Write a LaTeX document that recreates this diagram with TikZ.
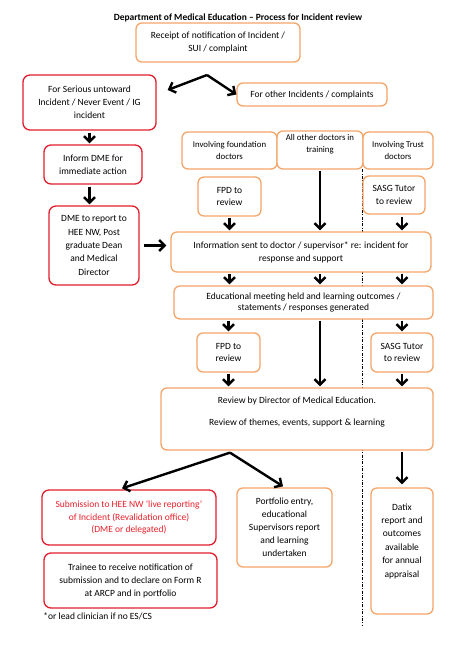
\documentclass[tikz,border=0pt]{standalone}
\usepackage{fontspec}
\setmainfont{Carlito}
\usetikzlibrary{arrows.meta,calc}
\definecolor{orangeline}{RGB}{244,165,105}
\definecolor{redline}{RGB}{226,30,45}
\definecolor{redtext}{RGB}{232,32,42}
\tikzset{every picture/.style={line width=0.75pt}}
\tikzset{
  obox/.style={draw=orangeline, line width=1.3pt, rounded corners=6pt, fill=white, align=center, inner sep=1pt},
  rbox/.style={draw=redline, line width=1.3pt, rounded corners=7pt, fill=white, align=center, inner sep=1pt},
  arr/.style={line width=2.4pt, -{Straight Barb[length=5.5pt,width=11pt,line width=2.4pt]}},
  divider/.style={line width=0.6pt, dash pattern=on 3pt off 1.5pt on 0.8pt off 1.5pt}
}
\begin{document}
\begin{tikzpicture}[x=1pt,y=1pt,yscale=-1,xscale=1,font=\fontsize{9.5}{12.8}\selectfont]
		\useasboundingbox (0,0) rectangle (474,650); %page of 474 x 650
		
		%Divider between trainee and Trust doctors
		\coordinate (divTop) at (362,169);
		\coordinate (divEnd) at (362,625);
		\draw [divider] (divTop) -- (divEnd) ;
		
		\draw (238,18) node [font=\fontsize{9.5}{11}\selectfont\bfseries] (title) {Department of Medical Education -- Process for Incident review};
		
		%Shape: Rounded Rect, top
		\draw (218,42.5) node [obox, minimum width=164, minimum height=39] (receipt) {Receipt of notification of Incident /\\SUI / complaint};
		\draw (89.5,102.5) node [rbox, minimum width=133, minimum height=55] (serious) {For Serious untoward\\Incident / Never Event / IG\\incident};
		\draw (312,94.5) node [obox, minimum width=150, minimum height=23] (other) {For other Incidents / complaints};
		
		%Shape: Rounded Rect, left column
		\draw (93,164.5) node [rbox, minimum width=98, minimum height=39] (inform) {Inform DME for\\immediate action};
		\draw (94,245.5) node [rbox, minimum width=90, minimum height=79, font=\fontsize{9.5}{13.3}\selectfont] (dmerep) {DME to report to\\HEE NW, Post\\graduate Dean\\and Medical\\Director};
		
		%Shape: Rounded Rect, doctor groups
		\draw (229.5,150.5) node [obox, minimum width=95, minimum height=37, font=\fontsize{8.8}{12.5}\selectfont] (found) {Involving foundation\\doctors};
		\draw (320,150) node [obox, minimum width=86, minimum height=38, font=\fontsize{8.8}{11.5}\selectfont] (allother) {All other doctors in\\training\\[2pt]};
		\draw (398,150.5) node [obox, minimum width=70, minimum height=37, font=\fontsize{8.8}{12.5}\selectfont] (trust) {Involving Trust\\doctors};
		\draw (229.5,196.5) node [obox, minimum width=63, minimum height=39] (fpdA) {FPD to\\review};
		\draw (394,195) node [obox, minimum width=62, minimum height=38] (sasgA) {SASG Tutor\\to review};
		
		%Shape: Rounded Rect, middle
		\draw (301,252) node [obox, minimum width=260, minimum height=40] (info) {Information sent to doctor / supervisor* re: incident for\\response and support};
		\draw (303.5,302.5) node [obox, minimum width=259, minimum height=33, font=\fontsize{9.5}{11.7}\selectfont] (edu) {Educational meeting held and learning outcomes /\\statements / responses generated};
		\draw (228.5,352.5) node [obox, minimum width=63, minimum height=39] (fpdB) {FPD to\\review};
		\draw (402,352.5) node [obox, minimum width=62, minimum height=39] (sasgB) {SASG Tutor\\to review};
		\draw (297,419) node [obox, minimum width=272, minimum height=62] (review) {Review by Director of Medical Education.\\[9pt]Review of themes, events, support \& learning\\[3pt]};
		
		%Shape: Rounded Rect, bottom
		\draw (129,517.5) node [rbox, minimum width=174, minimum height=55, text=redtext] (subm) {Submission to HEE NW ‘live reporting’\\of Incident (Revalidation office)\\(DME or delegated)};
		\draw (130.5,580.5) node [rbox, minimum width=173, minimum height=55, font=\fontsize{9.5}{13}\selectfont] (trainee) {Trainee to receive notification of\\submission and to declare on Form R\\at ARCP and in portfolio};
		\draw (284.5,527.5) node [obox, minimum width=95, minimum height=79, font=\fontsize{9.5}{13}\selectfont] (portf) {Portfolio entry,\\educational\\Supervisors report\\and learning\\undertaken};
		\draw (402,551) node [obox, minimum width=62, minimum height=126, font=\fontsize{9.5}{13.4}\selectfont] (datix) {Datix\\report and\\outcomes\\available\\for annual\\appraisal\\[8pt]};
		\draw (43,616) node [anchor=west, inner sep=0pt] (footnote) {*or lead clinician if no ES/CS};
		
		%Connectors
		\coordinate (splitA) at (207,75);
		\draw [arr] (splitA) -- ($(serious.east)+(11,-12.5)$) ;
		\draw [arr] (splitA) -- (other.west) ;
		\draw [arr, shorten <=2pt, shorten >=1pt] (serious.south) -- (serious.south |- inform.north) ;
		\draw [arr, shorten <=2pt, shorten >=1pt] (inform.south -| serious.south) -- (dmerep.north -| serious.south) ;
		\draw [arr, shorten <=4pt, shorten >=4pt] (dmerep.east) -- (dmerep.east -| info.west) ;
		
		\coordinate (colC) at (402,0);
		\draw [arr, shorten <=1pt, shorten >=1pt] (fpdA.south) -- (fpdA.south |- info.north) ;
		\draw [arr, shorten <=1pt, shorten >=1pt] (allother.south) -- (allother.south |- info.north) ;
		\draw [arr, shorten <=2pt, shorten >=1pt] (sasgA.south -| colC) -- (info.north -| colC) ;
		
		\draw [arr, shorten <=1pt, shorten >=1pt] (info.south -| fpdA.south) -- (edu.north -| fpdA.south) ;
		\draw [arr, shorten <=1pt, shorten >=1pt] (info.south -| allother.south) -- (edu.north -| allother.south) ;
		\draw [arr, shorten <=1pt, shorten >=1pt] (info.south -| colC) -- (edu.north -| colC) ;
		
		\draw [arr, shorten <=1pt, shorten >=1pt] (edu.south -| fpdB.north) -- (fpdB.north) ;
		\draw [arr, shorten <=1pt, shorten >=1pt] (edu.south -| allother.south) -- (review.north -| allother.south) ;
		\draw [arr, shorten <=1pt, shorten >=1pt] (edu.south -| sasgB.north) -- (sasgB.north) ;
		\draw [arr, shorten <=1pt, shorten >=1pt] (fpdB.south) -- (review.north -| fpdB.south) ;
		\draw [arr, shorten <=1pt, shorten >=1pt] (sasgB.south) -- (review.north -| sasgB.south) ;
		
		\coordinate (splitB) at ($(review.south -| fpdB.south)+(1.5,2)$);
		\draw [arr] (splitB) -- ($(subm.north)+(-7,-1)$) ;
		\draw [arr] (splitB) -- ($(portf.north)+(-1.5,-1)$) ;
		\draw [arr, shorten <=1pt, shorten >=3pt] (review.south -| datix.north) -- (datix.north) ;
		
	\end{tikzpicture}
\end{document}
